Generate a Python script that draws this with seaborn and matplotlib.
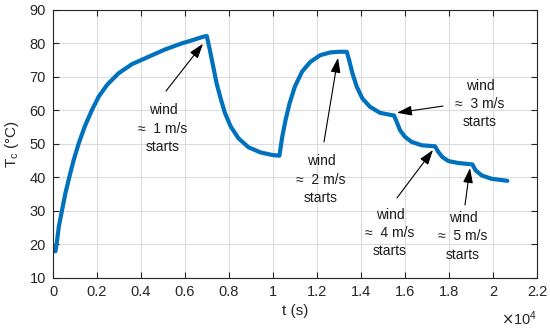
import numpy as np
import pandas as pd
import seaborn as sns
import matplotlib.pyplot as plt

t_s = [0, 110, 165, 265, 415, 566, 747, 944, 1170, 1442, 1774, 2075, 2453,
       2981, 3585, 4339, 5094, 5849, 6452, 6829, 6990,
       7130, 7282, 7435, 7618, 7817, 8076, 8428, 8886, 9420, 9955, 10290,
       10421, 10571, 10752, 10992, 11323, 11699, 12150, 12602, 12978,
       13354, 13459, 13609, 13805, 14060, 14406, 14857, 15384, 15500,
       15621, 15773, 16000, 16303, 16757, 17364, 17515, 17697, 17970,
       18424, 19060, 19212, 19485, 19939, 20650]
temp_c = [18, 18, 20.2, 25.4, 30.4, 35.4, 40.3, 45.3, 50.2, 55.2, 60.2, 64.1,
          67.6, 71.1, 73.8, 76.0, 78.2, 80.0, 81.2, 82.0, 82.2,
          78.0, 73.1, 68.1, 63.6, 59.2, 55.2, 51.7, 49.0, 47.5, 46.7, 46.5,
          52.2, 57.2, 62.1, 67.1, 71.6, 74.5, 76.5, 77.3, 77.5,
          77.5, 75.0, 71.1, 67.1, 63.6, 61.1, 59.3, 58.6, 58.5,
          56.6, 54.1, 52.1, 50.6, 49.6, 49.3, 47.6, 46.1, 44.9,
          44.3, 43.9, 42.1, 40.6, 39.6, 39.0]

x_ticks = [0, 2000, 4000, 6000, 8000, 10000, 12000, 14000, 16000, 18000,
           20000, 22000]
x_tick_labels = ['0', '0.2', '0.4', '0.6', '0.8', '1', '1.2', '1.4', '1.6',
                 '1.8', '2', '2.2']
y_ticks = [10, 20, 30, 40, 50, 60, 70, 80, 90]

wind_speeds = [1, 2, 3, 4, 5]
label_xy = [(5000, 54.6), (12180, 39.3), (19407, 61.9), (15317, 23.4),
            (18635, 22.5)]
arrow_tail = [(5136, 65.8), (12317, 50.6), (17726, 61.3), (15635, 33.9),
              (18726, 31.8)]
arrow_head = [(6818, 79.9), (12953, 75.7), (15635, 59.3), (17272, 48.2),
              (18953, 42.8)]

sns.set_style('ticks')
plt.rcParams['font.family'] = ['Liberation Sans', 'DejaVu Sans']

df = pd.DataFrame({'t': t_s, 'T': temp_c})

fig = plt.figure(figsize=(5.5, 3.3), dpi=100)
ax = fig.add_axes([0.0964, 0.1576, 0.8800, 0.8124])
sns.lineplot(data=df, x='t', y='T', ax=ax, sort=False, color='#0072BD',
             linewidth=3.0, solid_joinstyle='round', solid_capstyle='round')

ax.set_xlim(0, 22000)
ax.set_ylim(10, 90)
ax.set_xticks(x_ticks)
ax.set_xticklabels(x_tick_labels)
ax.set_yticks(y_ticks)
ax.grid(True, color='#dcdcdc', linewidth=0.8)
ax.set_axisbelow(True)
ax.tick_params(direction='in', length=4, width=0.8, colors='#262626',
               labelsize=10.5, top=True, right=True, pad=5)
for sp in ax.spines.values():
    sp.set_visible(True)
    sp.set_color('#262626')
    sp.set_linewidth(0.8)

ax.set_xlabel('t (s)', fontsize=11, color='#262626', labelpad=4)
ax.set_ylabel('T$_\\mathregular{c}$ (°C)', fontsize=11, color='#262626',
              labelpad=6)
ax.text(1.0, -0.15, '$\\times\\mathregular{10^4}$', transform=ax.transAxes,
        ha='right', va='center', fontsize=10.5, color='#262626')

for v, lxy, tail, head in zip(wind_speeds, label_xy, arrow_tail, arrow_head):
    ax.annotate('', xy=head, xytext=tail,
                arrowprops=dict(arrowstyle='-|>,head_length=0.9,head_width=0.3',
                                color='black', lw=0.8, shrinkA=0, shrinkB=0))
    ax.text(lxy[0], lxy[1], f'wind\n≈  {v} m/s\nstarts', ha='center',
            va='center', multialignment='center', fontsize=10,
            linespacing=1.4, color='#1a1a1a')

fig.savefig('out.png', dpi=100)
